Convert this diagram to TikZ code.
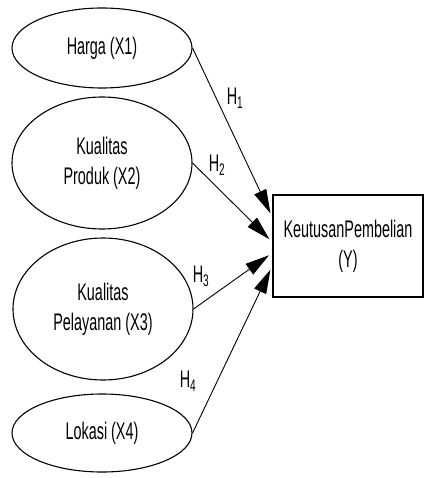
\documentclass[tikz,border=0pt]{standalone}
\usepackage{fontspec}
\setmainfont{Liberation Sans}[FakeStretch=0.6]
\usepackage{tikz}
\usetikzlibrary{shapes.geometric,arrows.meta}

\begin{document}
\begin{tikzpicture}[x=1pt,y=-1pt,
  var/.style={ellipse,draw,line width=1.1pt,inner sep=0pt,minimum width=180pt,
    align=center,font=\fontsize{24}{30}\selectfont},
  hlab/.style={font=\fontsize{24}{30}\selectfont},
  panah/.style={line width=0.9pt,-{Triangle[length=24pt,width=13pt]},shorten >=4pt}]

\useasboundingbox (0,0) rectangle (425,478);

%==================== variabel bebas ====================
\node[var,minimum height=80pt]  (harga)     at (102,48)  {Harga (X1)};
\node[var,minimum height=132pt] (produk)    at (102,163) {Kualitas\\Produk (X2)};
\node[var,minimum height=142pt] (pelayanan) at (103,309) {Kualitas\\Pelayanan (X3)};
\node[var,minimum height=78pt]  (lokasi)    at (102,433) {Lokasi (X4)};

%==================== variabel terikat ====================
\node[draw,line width=1.6pt,minimum width=150pt,minimum height=102pt,align=center,
  font=\fontsize{24}{30}\selectfont] (keputusan) at (348,246) {KeutusanPembelian\\(Y)};

% panah hipotesis
\foreach \src/\dy in {harga/29,produk/4,pelayanan/-7,lokasi/-20}
{
    \draw[panah] (\src.east) -- ([yshift=\dy pt]keputusan.west);
}

% label hipotesis
\foreach \i/\x/\y in {1/235/98,2/217/165,3/201/276,4/188/381}
{
    \node[hlab] (h\i) at (\x,\y) {H\textsubscript{\i}};
}

\end{tikzpicture}
\end{document}
